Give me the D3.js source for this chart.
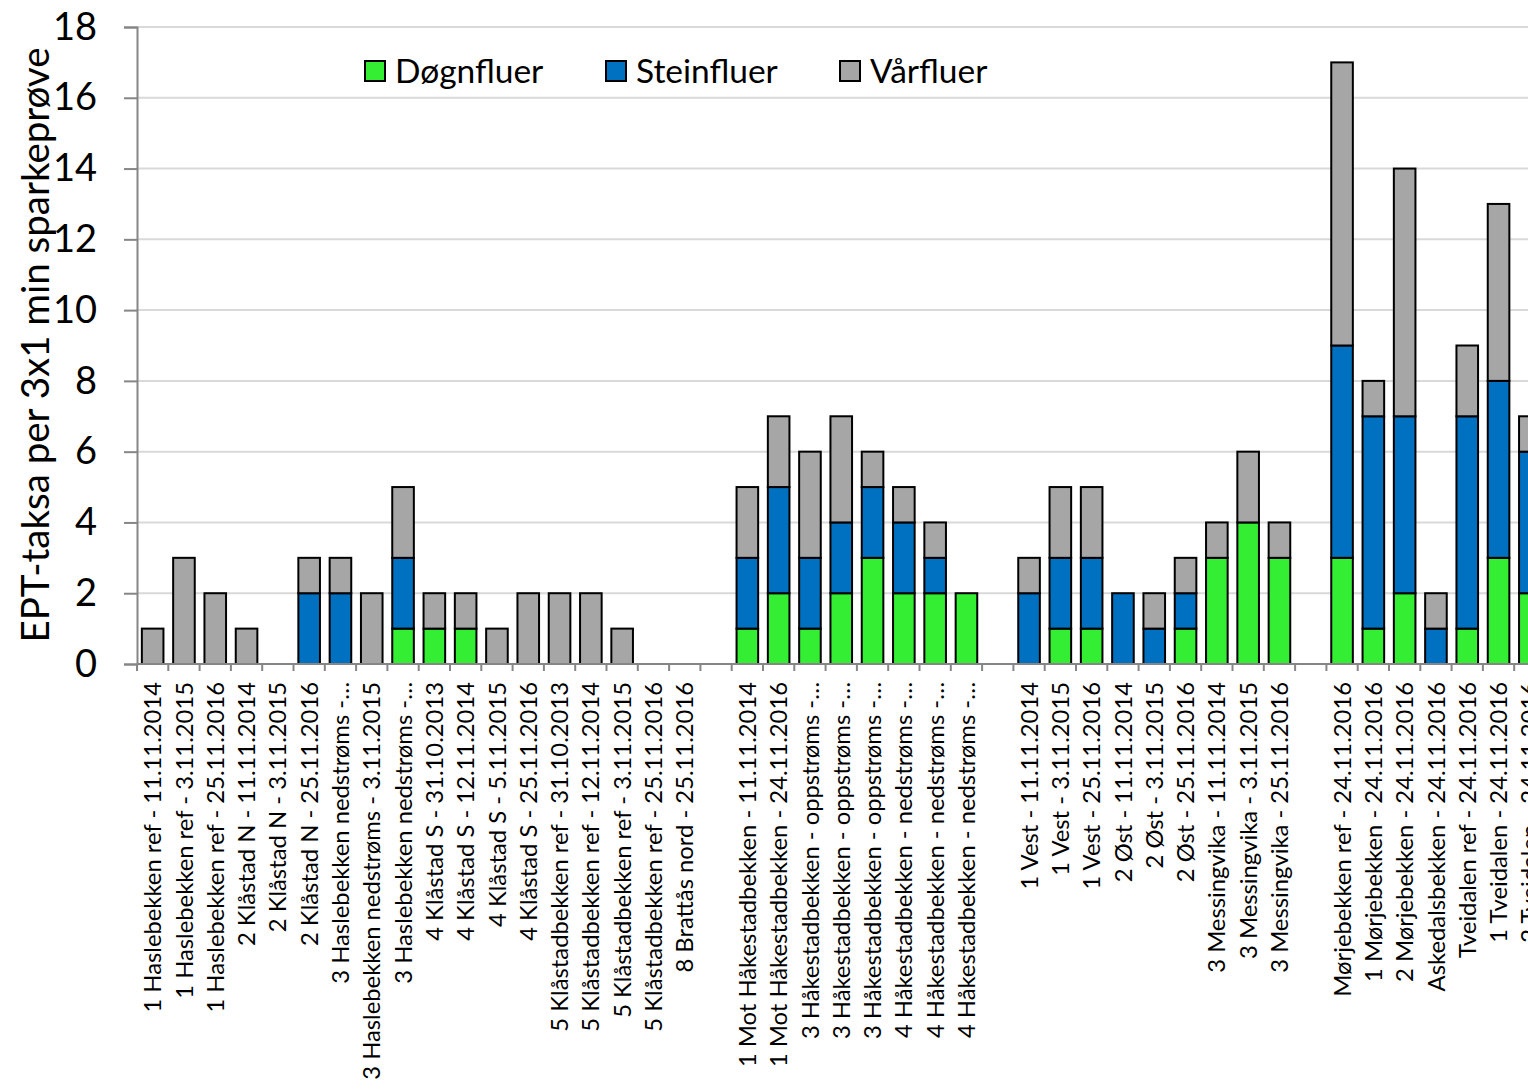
<!DOCTYPE html>
<html>
<head>
<meta charset="utf-8">
<script src="https://cdn.jsdelivr.net/npm/d3@7"></script>
<style>
  body { margin: 0; background: #fff; }
  svg { display: block; font-family: Lato, "Open Sans", sans-serif; }
</style>
</head>
<body>
<div id="chart"></div>
<script>
// sites (empty strings are spacer categories)
const categories = [
  "1 Haslebekken ref - 11.11.2014", "1 Haslebekken ref - 3.11.2015", "1 Haslebekken ref - 25.11.2016",
  "2 Klåstad N - 11.11.2014", "2 Klåstad N - 3.11.2015", "2 Klåstad N - 25.11.2016",
  "3 Haslebekken nedstrøms -…", "3 Haslebekken nedstrøms - 3.11.2015", "3 Haslebekken nedstrøms -…",
  "4 Klåstad S - 31.10.2013", "4 Klåstad S - 12.11.2014", "4 Klåstad S - 5.11.2015", "4 Klåstad S - 25.11.2016",
  "5 Klåstadbekken ref - 31.10.2013", "5 Klåstadbekken ref - 12.11.2014", "5 Klåstadbekken ref - 3.11.2015",
  "5 Klåstadbekken ref - 25.11.2016", "8 Brattås nord - 25.11.2016",
  "",
  "1 Mot Håkestadbekken - 11.11.2014", "1 Mot Håkestadbekken - 24.11.2016",
  "3 Håkestadbekken - oppstrøms -…", "3 Håkestadbekken - oppstrøms -…", "3 Håkestadbekken - oppstrøms -…",
  "4 Håkestadbekken - nedstrøms -…", "4 Håkestadbekken - nedstrøms -…", "4 Håkestadbekken - nedstrøms -…",
  "",
  "1 Vest - 11.11.2014", "1 Vest - 3.11.2015", "1 Vest - 25.11.2016",
  "2 Øst - 11.11.2014", "2 Øst - 3.11.2015", "2 Øst - 25.11.2016",
  "3 Messingvika - 11.11.2014", "3 Messingvika - 3.11.2015", "3 Messingvika - 25.11.2016",
  "",
  "Mørjebekken ref - 24.11.2016", "1 Mørjebekken - 24.11.2016", "2 Mørjebekken - 24.11.2016",
  "Askedalsbekken - 24.11.2016", "Tveidalen ref - 24.11.2016", "1 Tveidalen - 24.11.2016",
  "2 Tveidalen - 24.11.2016"
];

const dognfluer = [0,0,0, 0,0,0, 0,0,1, 1,1,0,0, 0,0,0, 0,0, 0,
  1,2, 1,2,3, 2,2,2, 0,
  0,1,1, 0,0,1, 3,4,3, 0,
  3,1,2, 0,1,3, 2];
const steinfluer = [0,0,0, 0,0,2, 2,0,2, 0,0,0,0, 0,0,0, 0,0, 0,
  2,3, 2,2,2, 2,1,0, 0,
  2,2,2, 2,1,1, 0,0,0, 0,
  6,6,5, 1,6,5, 4];
const varfluer = [1,3,2, 1,0,1, 1,2,2, 1,1,1,2, 2,2,1, 0,0, 0,
  2,2, 3,3,1, 1,1,0, 0,
  1,2,2, 0,1,1, 1,2,1, 0,
  8,1,7, 1,2,5, 1];

const seriesNames = ["Døgnfluer", "Steinfluer", "Vårfluer"];
const seriesColors = ["#33EE33", "#0070C0", "#A6A6A6"];
const yTicks = [0, 2, 4, 6, 8, 10, 12, 14, 16, 18];

const width = 1528, height = 1091;
const plotLeft = 137, plotBottom = 664, plotTop = 27;
const step = 31.3;

const svg = d3.select("#chart").append("svg")
  .attr("width", width)
  .attr("height", height);

const rows = categories.map((c, i) => ({
  key: i, label: c,
  "Døgnfluer": dognfluer[i], "Steinfluer": steinfluer[i], "Vårfluer": varfluer[i]
}));

const x = d3.scaleBand()
  .domain(rows.map(d => d.key))
  .range([plotLeft, plotLeft + step * rows.length])
  .paddingInner(0.31)
  .paddingOuter(0.155);

const y = d3.scaleLinear().domain([0, 18]).range([plotBottom, plotTop]);

// gridlines
svg.append("g")
  .selectAll("line")
  .data(yTicks.filter(t => t > 0))
  .join("line")
  .attr("x1", plotLeft).attr("x2", width)
  .attr("y1", d => y(d)).attr("y2", d => y(d))
  .attr("stroke", "#D9D9D9")
  .attr("stroke-width", 2);

// y axis
const yAxis = svg.append("g")
  .attr("transform", `translate(${plotLeft},0)`)
  .call(d3.axisLeft(y).tickValues(yTicks).tickSize(13).tickPadding(27));
yAxis.select(".domain").attr("stroke", "#868686").attr("stroke-width", 2);
yAxis.selectAll(".tick line").attr("stroke", "#868686").attr("stroke-width", 2);
yAxis.selectAll(".tick text")
  .attr("font-size", 38)
  .attr("font-family", "Lato, sans-serif")
  .attr("fill", "#000");

// stacked bars
const stack = d3.stack().keys(seriesNames)(rows);
svg.append("g")
  .selectAll("g")
  .data(stack)
  .join("g")
  .attr("fill", (d, i) => seriesColors[i])
  .selectAll("rect")
  .data(d => d.filter(p => p[1] - p[0] > 0))
  .join("rect")
  .attr("x", d => x(d.data.key))
  .attr("width", x.bandwidth())
  .attr("y", d => y(d[1]))
  .attr("height", d => y(d[0]) - y(d[1]))
  .attr("stroke", "#000")
  .attr("stroke-width", 2);

// x axis
const xAxis = svg.append("g")
  .attr("transform", `translate(0,${plotBottom})`);
xAxis.append("line")
  .attr("x1", plotLeft).attr("x2", width)
  .attr("stroke", "#868686").attr("stroke-width", 2);
xAxis.selectAll(".tk")
  .data(d3.range(rows.length + 1))
  .join("line")
  .attr("class", "tk")
  .attr("x1", i => plotLeft + i * step).attr("x2", i => plotLeft + i * step)
  .attr("y1", 0).attr("y2", 7)
  .attr("stroke", "#868686").attr("stroke-width", 2);
xAxis.selectAll("text")
  .data(rows)
  .join("text")
  .attr("transform", d => `translate(${x(d.key) + x.bandwidth() / 2},18) rotate(-90)`)
  .attr("dy", "0.36em")
  .attr("text-anchor", "end")
  .attr("font-size", 23.8)
  .attr("fill", "#000")
  .text(d => d.label);

// y title
svg.append("text")
  .attr("transform", `translate(35,${(45 + 645) / 2}) rotate(-90)`)
  .attr("dy", "0.36em")
  .attr("text-anchor", "middle")
  .attr("font-size", 38.5)
  .attr("fill", "#000")
  .text("EPT-taksa per 3x1 min sparkeprøve");

// legend
const legendX = [365, 606, 840];
const legend = svg.append("g")
  .selectAll("g")
  .data(seriesNames)
  .join("g")
  .attr("transform", (d, i) => `translate(${legendX[i]},61)`);
legend.append("rect")
  .attr("width", 20).attr("height", 20)
  .attr("fill", (d, i) => seriesColors[i])
  .attr("stroke", "#000").attr("stroke-width", 2);
legend.append("text")
  .attr("x", 30).attr("y", 10)
  .attr("dy", "0.36em")
  .attr("font-size", 33.5)
  .attr("fill", "#000")
  .text(d => d);
</script>
</body>
</html>
